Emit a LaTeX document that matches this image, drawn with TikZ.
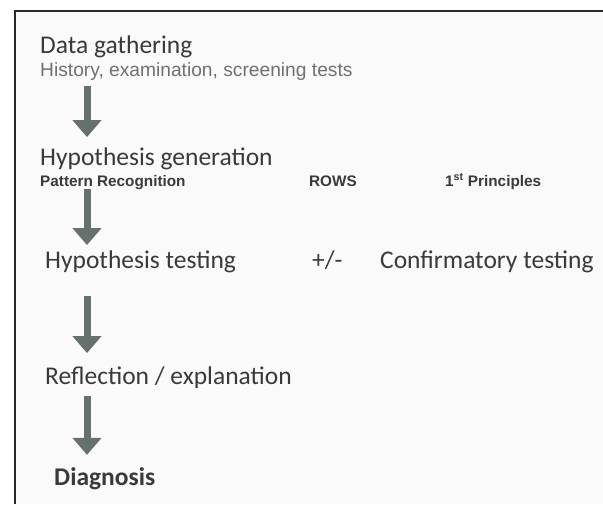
\documentclass[tikz,border=0pt]{standalone}
\usepackage{fontspec}
\setmainfont{Carlito}
\newfontfamily\smallfont{Liberation Sans}
\usepackage{xcolor}
\usetikzlibrary{positioning,arrows.meta}
\definecolor{framegray}{HTML}{2A2A2A}
\definecolor{paper}{HTML}{FAFAFA}
\definecolor{textgray}{HTML}{3A3A3A}
\definecolor{subgray}{HTML}{707070}
\definecolor{arrowgray}{HTML}{66706D}

\begin{document}
\begin{tikzpicture}[x=1pt,y=-1pt,
	title/.style={anchor=base west, inner sep=0pt, text=textgray, font=\fontsize{25.5}{30}\selectfont},
	sub/.style={anchor=base west, inner sep=0pt, text=subgray, font=\smallfont\fontsize{19.2}{21}\selectfont},
	tag/.style={anchor=base west, inner sep=0pt, text=textgray, font=\smallfont\bfseries\fontsize{15.3}{17}\selectfont},
	flow/.style={arrowgray, line width=7pt, -{Triangle[width=28pt,length=17pt]}}]
			\useasboundingbox (0,0) rectangle (603,504);

			% frame
			\fill[white] (0,0) rectangle (603,504);
			\fill[paper] (14.5,10.5) rectangle (603,504);
			\draw[framegray, line width=2pt] (14.5,504) -- (14.5,10.5) -- (603,10.5);

			% steps
			\node[title] (data) at (40,53) {Data gathering};
			\node[sub] (hist) at (40,76) {History, examination, screening tests};
			\node[title] (hgen) at (40,165) {Hypothesis generation};
			\node[tag] (pattern) at (40,186) {Pattern Recognition};
			\node[tag] (rows) at (309,186) {ROWS};
			\node[tag] (first) at (445,186) {1\textsuperscript{st} Principles};
			\node[title] (htest) at (45,268) {Hypothesis testing};
			\node[title] (pm) at (312,268) {+/-};
			\node[title] (confirm) at (380,268) {Confirmatory testing};
			\node[title] (refl) at (45,384) {Reflection / explanation};
			\node[title, font=\bfseries\fontsize{25.5}{30}\selectfont] (diag) at (54,485) {Diagnosis};

			% arrows down the left
			\coordinate (spine) at (87,0);
			\draw[flow, shorten <=6pt, shorten >=10pt] (hist.south -| spine) -- (hgen.north -| spine);
			\draw[flow, shorten <=0pt, shorten >=5pt] (pattern.south -| spine) -- (htest.north -| spine);
			\draw[flow, shorten <=23pt, shorten >=13pt] (htest.south -| spine) -- (refl.north -| spine);
			\draw[flow, shorten <=8pt, shorten >=12pt] (refl.south -| spine) -- (diag.north -| spine);

		\end{tikzpicture}
\end{document}
